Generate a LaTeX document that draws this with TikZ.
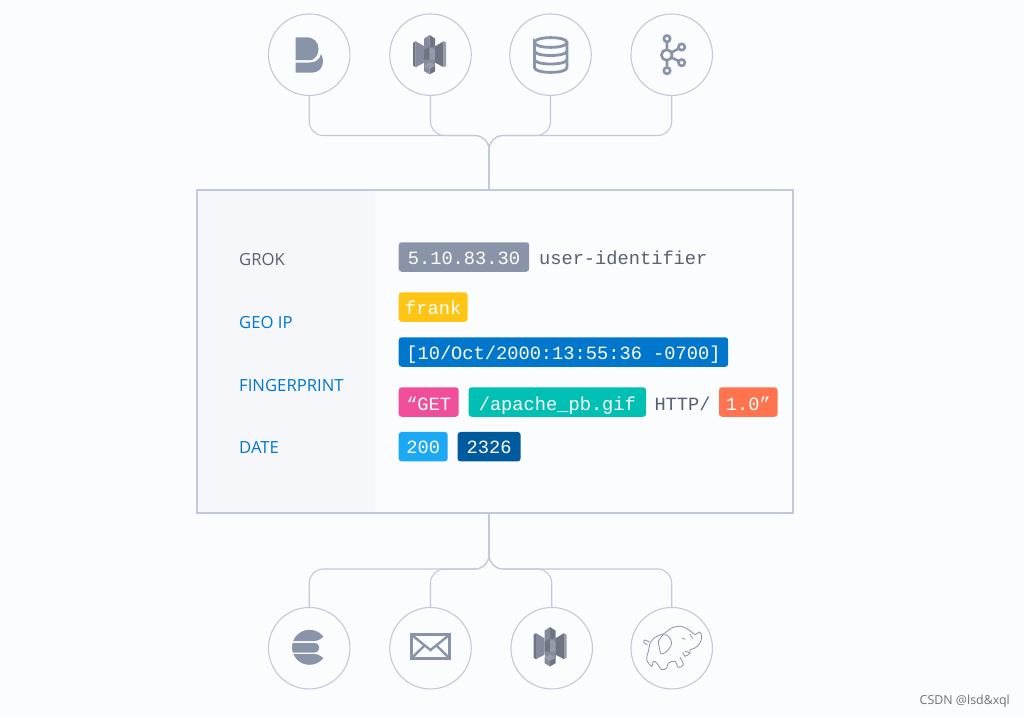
\documentclass[tikz,border=0pt]{standalone}
\usepackage{fontspec}
\setmainfont{Open Sans}
\setmonofont{Liberation Mono}
\usepackage{tikz}
\usetikzlibrary{positioning,calc}
\definecolor{pagebg}{HTML}{FBFCFE}
\definecolor{panelbg}{HTML}{F5F7FB}
\definecolor{wirecol}{HTML}{C2C9DA}
\definecolor{iconcol}{HTML}{8A94A8}
\definecolor{inkcol}{HTML}{5A6072}
\definecolor{linkcol}{HTML}{0077CC}
\definecolor{bktlight}{HTML}{969BAB}
\definecolor{bktmid}{HTML}{858B9C}
\definecolor{bktdark}{HTML}{6E7482}
\tikzset{
  bucket/.pic={
    \fill[bktmid] (-5.5,-9) rectangle (5.5,11);
    \fill[bktdark] (-16.5,-12) -- (-14,-13.5) -- (-14,12.5) -- (-16.5,11) -- cycle;
    \fill[bktmid] (-14,-13.5) -- (-5.5,-8.5) -- (-5.5,8) -- (-14,12.5) -- cycle;
    \fill[bktdark] (5.5,-8.5) -- (14,-13.5) -- (14,12.5) -- (5.5,8) -- cycle;
    \fill[bktlight] (14,-13.5) -- (16.5,-12) -- (16.5,11) -- (14,12.5) -- cycle;
    \fill[bktmid] (-5.5,-16) -- (0,-19.7) -- (0,-6) -- (-5.5,-9) -- cycle;
    \fill[bktdark] (0,-19.7) -- (5.5,-16) -- (5.5,-9) -- (0,-6) -- cycle;
    \fill[bktdark] (-5.5,-5) -- (0,-8) -- (0,5) -- (-5.5,5) -- cycle;
    \fill[bktlight] (0,-8) -- (5.5,-5) -- (5.5,5) -- (0,5) -- cycle;
    \fill[bktlight] (-5.5,11) -- (0,7.5) -- (5.5,11) -- (0,14) -- cycle;
    \fill[bktmid] (-5.5,11) -- (0,14) -- (0,19.7) -- (-5.5,16.5) -- cycle;
    \fill[bktdark] (0,14) -- (5.5,11) -- (5.5,16.5) -- (0,19.7) -- cycle;
  }
}
\begin{document}
\begin{tikzpicture}
%defines
  [x=1pt,y=-1pt,
source/.style={circle,draw=wirecol,line width=1.1pt,fill=pagebg,inner sep=0pt,minimum size=81.5pt},
wire/.style={draw=wirecol,line width=1.1pt,rounded corners=14pt},
badge/.style={rectangle,rounded corners=3pt,text=white,inner sep=0pt,minimum height=29.5pt,
text height=16pt,text depth=2pt,font=\ttfamily\fontsize{18.7}{20}\selectfont},
plain/.style={inner sep=0pt,text=inkcol,text height=16pt,text depth=2pt,font=\ttfamily\fontsize{18.7}{20}\selectfont},
lowrow/.style={text height=19.4pt},
field/.style={inner sep=0pt,anchor=west,font=\fontsize{16.7}{18}\selectfont},
stroked/.style={draw=iconcol,line width=2.8pt,fill=none}]
\fill[pagebg] (0,0) rectangle (1024,717);
\useasboundingbox (0,0) rectangle (1024,717);
%nodes
\node[source] (beats)  at (309.2,54.7) {};
\node[source] (bucket) at (430.5,54.7) {};
\node[source] (dbase)  at (550.5,54.7) {};
\node[source] (kafka)  at (671.7,54.7) {};
\node[source] (elastic) at (309.2,648.2) {};
\node[source] (mail)    at (430.5,648.2) {};
\node[source] (archive) at (551.7,648.2) {};
\node[source] (hadoop)  at (671.7,648.2) {};
\node[draw=wirecol,line width=1.1pt,fill=pagebg,inner sep=0pt,minimum width=596pt,minimum height=323pt] (card) at (495,351.5) {};
\fill[panelbg] (198,191) rectangle (375,512);
\node[field,text=inkcol]  (grok)  at (239,260) {GROK};
\node[field,text=linkcol] (geoip) at (239,323) {GEO IP};
\node[field,text=linkcol] (print) at (239,385.5) {FINGERPRINT};
\node[field,text=linkcol] (when)  at (239,448) {DATE};
\node[badge,anchor=west,fill=iconcol,minimum width=130.5pt] (addr) at (398.5,257) {5.10.83.30};
\node[plain] (ident) [right=9.5pt of addr] {user-identifier};
\node[badge,anchor=west,fill={rgb,255:red,254;green,197;blue,20},minimum width=69pt] (user) at (398.5,307) {frank};
\node[badge,anchor=west,fill=linkcol,minimum width=329.5pt] (stamp) at (398.5,352) {[10/Oct/2000:13:55:36 -0700]};
\node[badge,lowrow,anchor=west,fill={rgb,255:red,240;green,78;blue,152},minimum width=60pt] (verb) at (398.5,402) {“GET};
\node[badge,lowrow,fill={rgb,255:red,0;green,191;blue,179},minimum width=177.5pt] (path) [right=9.5pt of verb] {/apache\_pb.gif};
\node[plain,lowrow] (proto) [right=8pt of path] {HTTP/};
\node[badge,lowrow,fill={rgb,255:red,255;green,116;blue,78},minimum width=58.5pt] (vers) [right=8pt of proto] {1.0”};
\node[badge,anchor=west,fill={rgb,255:red,27;green,169;blue,245},minimum width=49pt] (status) at (398.5,446.7) {200};
\node[badge,fill={rgb,255:red,0;green,90;blue,158},minimum width=63pt] (size) [right=9.5pt of status] {2326};
\node[inner sep=0pt,anchor=east,text=black!55,font=\fontsize{12.4}{14}\selectfont] (mark) at (1010,701) {CSDN @lsd\&xql};
\coordinate (tophub) at (489,135.5);
\coordinate (topin)  at (489,190);
\coordinate (bothub) at (489,569);
\coordinate (botin)  at (489,513);
%links
\foreach \n in {beats,bucket,dbase,kafka}
  \draw[wire] (\n.south) |- (tophub) -- (topin);
\foreach \n in {elastic,mail,archive,hadoop}
  \draw[wire] (\n.north) |- (bothub) -- (botin);
%icons
\fill[iconcol] (295.7,37.3) -- (306,37.3) .. controls (314,37.3) and (318.5,42) .. (318.5,49) .. controls (318.5,54) and (316,58) .. (312,60) -- (295.7,60) -- cycle;
\fill[iconcol] (295.7,62.5) -- (310,62.5) .. controls (316,62.5) and (320,59) .. (321,54) .. controls (322.5,56) and (323,59) .. (323,62) .. controls (323,68) and (318,72.7) .. (312,72.7) -- (295.7,72.7) -- cycle;
\pic at (429.7,54.7) {bucket};
\pic at (550,646.7) {bucket};
\draw[stroked] (534.5,42.5) .. controls (534.5,36) and (567,36) .. (567,42.5) .. controls (567,49) and (534.5,49) .. (534.5,42.5) -- (534.5,67.5) .. controls (534.5,74) and (567,74) .. (567,67.5) -- (567,42.5);
\draw[stroked] (534.5,51) .. controls (534.5,57) and (567,57) .. (567,51);
\draw[stroked] (534.5,59.5) .. controls (534.5,65.5) and (567,65.5) .. (567,59.5);
\draw[stroked,line width=2.6pt] (666.7,55) circle (5.3) (667,38.7) circle (3.2) (667,70.7) circle (3.2) (681.7,47) circle (3.2) (681.7,62.7) circle (3.2);
\draw[stroked,line width=2.6pt] (667,42) -- (667,49.7) (667,60.3) -- (667,67.5) (671.5,52.5) -- (678.8,48.5) (671.5,57.5) -- (678.8,61.2);
\begin{scope}
\clip (309.5,647.3) circle (17.5);
\fill[iconcol] (288,625) -- (332,625) -- (332,632) -- (324,636) .. controls (321,639) and (318,641) .. (314,641) -- (288,641) -- cycle;
\fill[iconcol] (288,670) -- (332,670) -- (332,662) -- (324,658.5) .. controls (321,656) and (318,654) .. (314,654) -- (288,654) -- cycle;
\fill[iconcol,rounded corners=4pt] (285,643) rectangle (319,652.5);
\end{scope}
\draw[stroked,line width=3pt] (411.8,634.8) rectangle (449.2,658.5);
\draw[stroked,line width=2.4pt] (411.8,635) -- (430.5,650) -- (449.2,635) (411.8,658) -- (424.5,645.5) (449.2,658) -- (436.5,645.5);
%elephant
\begin{scope}[shift={(640,618)},x=0.3333pt,y=-0.3333pt,draw=iconcol,line width=.8pt]
\draw plot[smooth,tension=.6] coordinates {(30,75) (45,58) (75,45) (95,30) (125,25) (150,38) (165,50) (178,42) (185,55) (180,75) (165,90) (150,95) (150,105) (135,115) (128,103)};
\draw plot[smooth,tension=.6] coordinates {(120,118) (130,140) (115,148) (105,130) (85,135) (80,150) (65,155) (50,135) (40,130) (35,145) (20,125) (25,100) (30,75)};
\draw plot[smooth,tension=.6] coordinates {(55,70) (70,50) (85,55) (95,75) (85,95) (65,108) (58,90) (55,70)};
\draw plot[smooth,tension=.6] coordinates {(28,72) (14,66) (12,74) (22,80)};
\draw (125,60) -- (136,64);
\draw (150,48) -- (158,62);
\draw (135,100) -- (150,104);
\end{scope}
\end{tikzpicture}
\end{document}
